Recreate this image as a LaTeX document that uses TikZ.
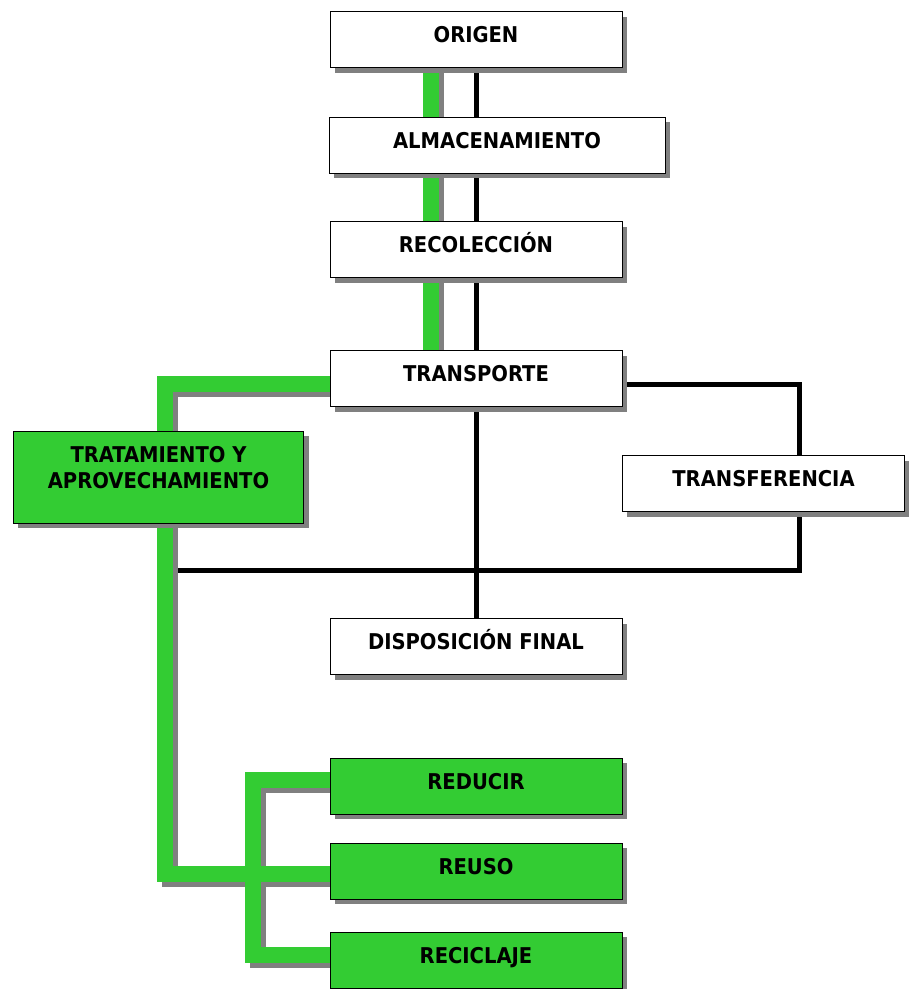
\documentclass[tikz,border=0pt]{standalone}
\usepackage{fontspec}
\setmainfont{DejaVu Sans Condensed}
\usepackage{tikz}
\usetikzlibrary{calc,shadows,backgrounds}
\definecolor{pipegreen}{RGB}{51,204,51}
\definecolor{shadowgray}{RGB}{128,128,128}

\begin{document}
\begin{tikzpicture}[x=0.75pt,y=-0.75pt,
  box/.style={draw=black, line width=0.6pt, fill=white, minimum width=219pt, minimum height=42pt,
    inner sep=0pt, font=\fontsize{16.3}{19.5}\selectfont\bfseries, text height=12pt, text depth=6.9pt,
    drop shadow={shadow xshift=3.75pt, shadow yshift=-3.75pt, fill=shadowgray, opacity=1}},
  greenbox/.style={box, fill=pipegreen},
  greenpipe/.style={draw=pipegreen, line width=12pt},
  pipeshadow/.style={draw=shadowgray, line width=12pt, transform canvas={shift={(3.75pt,-3.75pt)}}},
  blackpipe/.style={draw=black, line width=3.75pt}]
\useasboundingbox (0,0) rectangle (908,989);

% main chain
\node[box] (origen) at (476,39.5) {ORIGEN};
\node[box, minimum width=252pt] (almac) at (497,145) {ALMACENAMIENTO};
\node[box] (recol) at (476,249.5) {RECOLECCIÓN};
\node[box] (transp) at (476,378.5) {TRANSPORTE};
\node[box, minimum width=212pt] (transf) at (763.5,483.5) {TRANSFERENCIA};
\node[box] (dispo) at (476,646.5) {DISPOSICIÓN FINAL};

% green side
\node[greenbox, minimum width=218pt, minimum height=69pt, align=center,
  text height=31.5pt, text depth=14pt] (trat) at (158.5,477) {TRATAMIENTO Y\\APROVECHAMIENTO};
\node[greenbox] (reducir) at (476,786) {REDUCIR};
\node[greenbox] (reuso) at (476,871) {REUSO};
\node[greenbox] (recic) at (476,960) {RECICLAJE};

\begin{scope}[on background layer]
  \draw[blackpipe] (origen.south) -- (dispo.north);
  \draw[blackpipe] ($(transp.east)+(0,6)$) -| ($(transf.north)+(36,0)$);
  \draw[blackpipe] ($(transf.south)+(36,0)$) |- (165,570);
  \def\pipetop{($(origen.south)+(-45,0)$) -- ($(transp.north)+(-45,0)$)}
  \def\pipeleft{($(transp.west)+(0,5.5)$) -| (165,874) -- ($(reuso.west)+(0,3)$)}
  \def\pipebranch{($(reducir.west)+(0,-6)$) -| (253,955) -- ($(recic.west)+(0,-5)$)}
  \draw[pipeshadow] \pipetop;
  \draw[pipeshadow] \pipeleft;
  \draw[pipeshadow] \pipebranch;
  \draw[greenpipe] \pipetop;
  \draw[greenpipe] \pipeleft;
  \draw[greenpipe] \pipebranch;
\end{scope}
\end{tikzpicture}
\end{document}
